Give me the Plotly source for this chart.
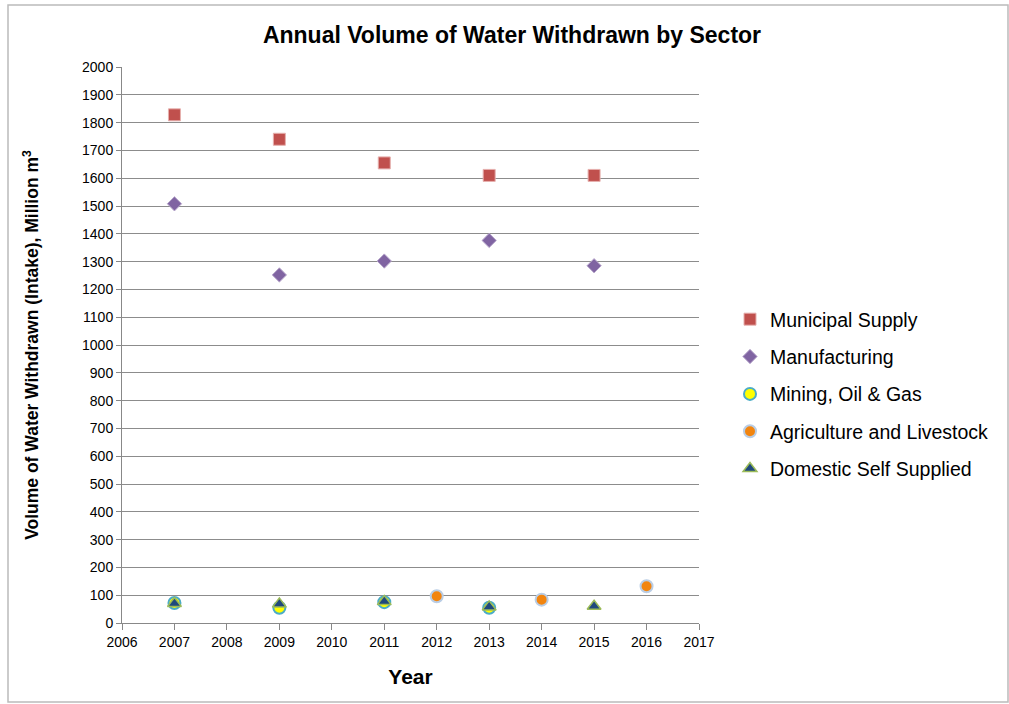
import plotly.graph_objects as go

title = "Annual Volume of Water Withdrawn by Sector"
muni_years = [2007, 2009, 2011, 2013, 2015]
muni_vals = [1828, 1740, 1655, 1610, 1610]
manu_years = [2007, 2009, 2011, 2013, 2015]
manu_vals = [1508, 1252, 1302, 1376, 1285]
mining_years = [2007, 2009, 2011, 2013]
mining_vals = [72, 55, 75, 55]
agri_years = [2012, 2014, 2016]
agri_vals = [96, 84, 132]
dom_years = [2007, 2009, 2011, 2013, 2015]
dom_vals = [70, 68, 77, 58, 60]

FONT = "Liberation Sans, Arial, sans-serif"
fig = go.Figure()

def add(name, xs, ys, symbol, size, fill, line, lw=1):
    fig.add_trace(go.Scatter(
        x=xs, y=ys, mode="markers", name=name, legendgroup=name,
        marker=dict(symbol=symbol, size=size, color=fill,
                    line=dict(color=line, width=lw)),
    ))

add("Municipal Supply", muni_years, muni_vals, "square", 12, "#C0504D", "#E6B0AE", 1)
add("Manufacturing", manu_years, manu_vals, "diamond", 11, "#8064A2", "#B8A8CC", 1)
add("Mining, Oil & Gas", mining_years, mining_vals, "circle", 12, "#FFFF00", "#4BACC6", 2)
add("Agriculture and Livestock", agri_years, agri_vals, "circle", 12, "#F2850F", "#B9CDE5", 2)
add("Domestic Self Supplied", dom_years, dom_vals, "triangle-up", 12, "#1F497D", "#9BBB59", 1.5)

fig.update_layout(
    width=1009, height=704,
    margin=dict(l=122, r=310, t=67, b=81),
    paper_bgcolor="white", plot_bgcolor="white",
    font=dict(family=FONT, size=14, color="black"),
    title=dict(text="<b>" + title + "</b>", x=(512) / 1009, xanchor="center",
               y=1 - 35 / 704, yanchor="middle",
               font=dict(size=23, family=FONT, color="black")),
    showlegend=True,
    legend=dict(x=(730 - 122) / 577, xanchor="left", y=(623 - 300) / 556, yanchor="top",
                font=dict(size=19.5, family=FONT), tracegroupgap=9,
                bgcolor="rgba(0,0,0,0)", itemwidth=30),
    xaxis=dict(range=[2006, 2017], tickmode="linear", tick0=2006, dtick=1,
               showgrid=False, zeroline=False, showline=True, linecolor="#888888",
               linewidth=1, ticks="outside", ticklen=6, tickcolor="#888888",
               tickfont=dict(size=14, family=FONT),
               title=dict(text="<b>Year</b>", font=dict(size=21, family=FONT), standoff=20)),
    yaxis=dict(range=[0, 2000], tickmode="linear", tick0=0, dtick=100,
               showgrid=True, gridcolor="#8C8C8C", gridwidth=1, zeroline=False,
               showline=True, linecolor="#888888", linewidth=1,
               ticks="outside", ticklen=5, tickcolor="#888888",
               tickfont=dict(size=14, family=FONT),
               title=dict(text="<b>Volume of Water Withdrawn (Intake), Million m<sup>3</sup></b>",
                          font=dict(size=17.5, family=FONT), standoff=38)),
)

fig.add_shape(type="rect", xref="paper", yref="paper",
              x0=(8 - 122) / 577, x1=(1008 - 122) / 577,
              y0=(623 - 702) / 556, y1=(623 - 5) / 556,
              line=dict(color="#BBBBBB", width=1.5), fillcolor="rgba(0,0,0,0)", layer="below")

fig.write_html("out.html")
